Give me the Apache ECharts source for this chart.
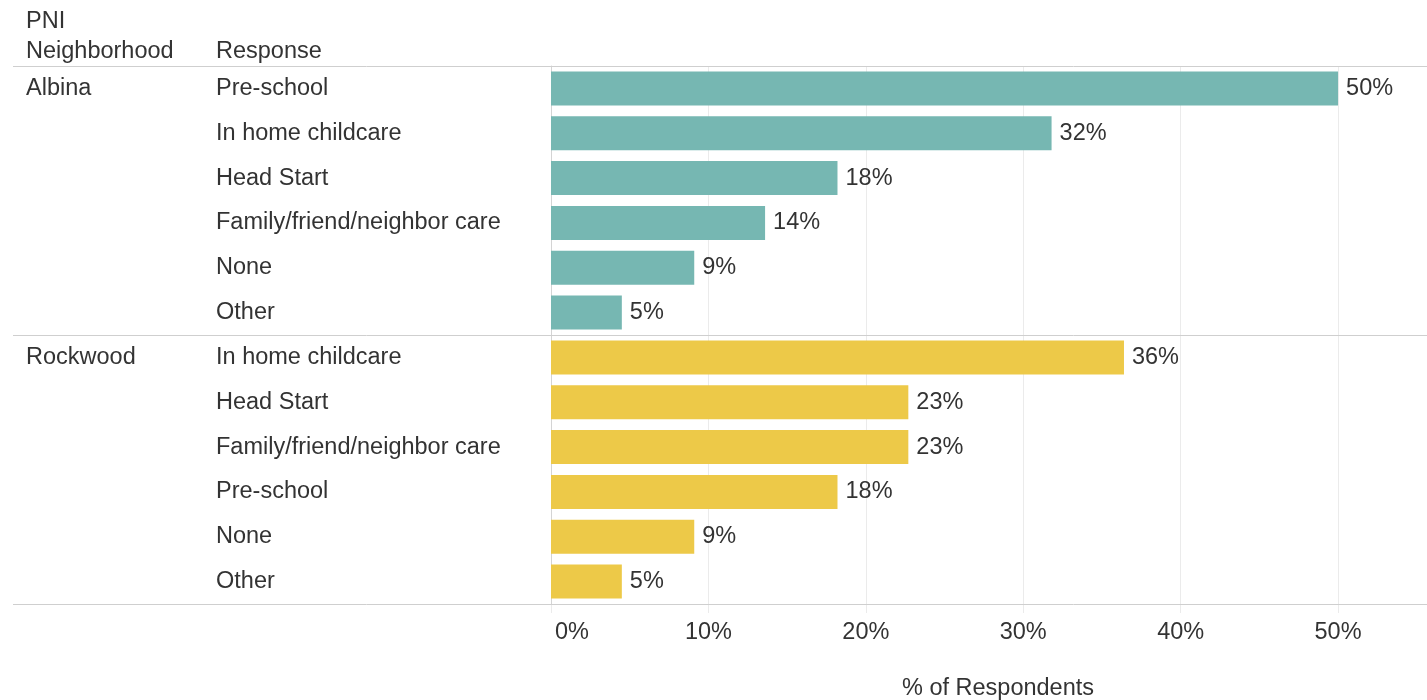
<!DOCTYPE html>
<html>
<head>
<meta charset="utf-8">
<script src="https://cdn.jsdelivr.net/npm/echarts@6/dist/echarts.min.js"></script>
<style>
html,body{margin:0;padding:0;background:#fff;}
#chart{width:1427px;height:700px;}
</style>
</head>
<body>
<div id="chart"></div>
<script>
const albinaResponses = ['Pre-school','In home childcare','Head Start','Family/friend/neighbor care','None','Other'];
const albinaValues = [50.0, 31.8, 18.2, 13.6, 9.1, 4.5];
const rockwoodResponses = ['In home childcare','Head Start','Family/friend/neighbor care','Pre-school','None','Other'];
const rockwoodValues = [36.4, 22.7, 22.7, 18.2, 9.1, 4.5];
const neighborhoods = ['Albina','Rockwood'];
const xTicks = [0,10,20,30,40,50];

const FONT = '"Liberation Sans", Arial, Helvetica, sans-serif';
const TXT = '#333333';
const FS = 23.5;

const categories = albinaResponses.concat(rockwoodResponses);
const neighCol = albinaResponses.map(()=>neighborhoods[0]).concat(rockwoodResponses.map(()=>neighborhoods[1]));
const albinaSeries = albinaValues.concat(rockwoodResponses.map(()=>'-'));
const rockwoodSeries = albinaResponses.map(()=>'-').concat(rockwoodValues);

const W = 1427, H = 700;
const gridLeft = 551, gridTop = 66, gridBottomY = 604;
const rowH = (gridBottomY - gridTop) / categories.length;

const chart = echarts.init(document.getElementById('chart'), null, {renderer:'canvas'});

const labelCfg = {
  show:true, position:'right', distance:8, color:TXT, fontSize:FS, fontFamily:FONT,
  formatter: p => Math.round(p.value) + '%'
};

chart.setOption({
  backgroundColor:'#fff',
  animation:false,
  textStyle:{fontFamily:FONT},
  title:[
    {text:'PNI\nNeighborhood', left:26, top:7, padding:0, textStyle:{fontSize:FS, fontWeight:'normal', color:TXT, fontFamily:FONT, lineHeight:30}},
    {text:'Response', left:216, top:37, padding:0, textStyle:{fontSize:FS, fontWeight:'normal', color:TXT, fontFamily:FONT, lineHeight:30}}
  ],
  grid:{left:gridLeft, right:0, top:gridTop, bottom:H-gridBottomY, containLabel:false, outerBoundsMode:'none'},
  xAxis:{
    type:'value', min:0, max:55.65, interval:10,
    axisLine:{show:false},
    axisTick:{show:true, length:9, lineStyle:{color:'#ebebeb'}},
    splitLine:{show:true, lineStyle:{color:'#ebebeb', width:1}},
    axisLabel:{
      color:TXT, fontSize:FS, fontFamily:FONT, margin:17, showMaxLabel:false,
      formatter: v => v === xTicks[0] ? '{z|' + v + '%}' : (xTicks.indexOf(v) >= 0 ? v + '%' : ''),
      rich:{z:{color:TXT, fontSize:FS, fontFamily:FONT, padding:[0,0,0,42]}}
    },
    name:'% of Respondents', nameLocation:'middle', nameGap:73,
    nameTextStyle:{color:TXT, fontSize:FS, fontFamily:FONT, padding:[0,0,0,18]}
  },
  yAxis:[
    {
      type:'category', data:categories, inverse:true,
      axisLine:{show:true, lineStyle:{color:'#d4d4d4'}},
      axisTick:{show:false},
      splitLine:{show:false},
      axisLabel:{align:'left', margin:gridLeft-216, color:TXT, fontSize:FS, fontFamily:FONT}
    },
    {
      type:'category', data:neighCol, inverse:true, position:'left',
      axisLine:{show:false}, axisTick:{show:false}, splitLine:{show:false},
      axisLabel:{
        align:'left', margin:gridLeft-26, color:TXT, fontSize:FS, fontFamily:FONT,
        formatter:(v, i) => (i === 0 || neighCol[i-1] !== v) ? v : ''
      }
    }
  ],
  series:[
    {name:neighborhoods[0], type:'bar', stack:'all', yAxisIndex:0, data:albinaSeries, barWidth:34,
     itemStyle:{color:'#76b7b2'}, label:labelCfg},
    {name:neighborhoods[1], type:'bar', stack:'all', yAxisIndex:0, data:rockwoodSeries, barWidth:34,
     itemStyle:{color:'#edc948'}, label:labelCfg}
  ]
});

// Group separator lines spanning the whole table width
const sepY = [gridTop, gridTop + albinaResponses.length * rowH, gridBottomY];
chart.setOption({
  graphic: sepY.map(y => ({
    type:'line', silent:true, z:10,
    shape:{x1:13, y1:Math.round(y)+0.5, x2:W, y2:Math.round(y)+0.5},
    style:{stroke:'#cfcfcf', lineWidth:1}
  }))
});
</script>
</body>
</html>
